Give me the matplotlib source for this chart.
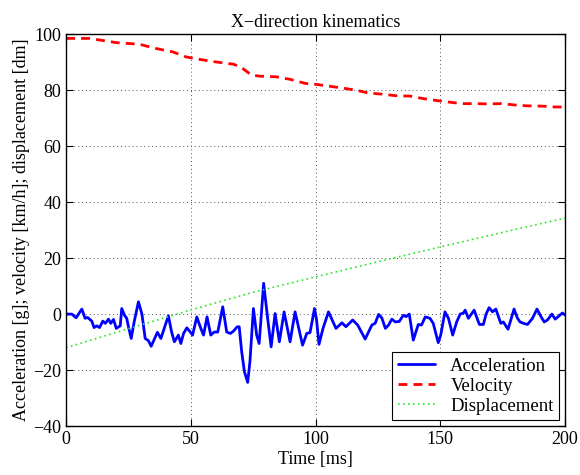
import matplotlib
matplotlib.use("Agg")
import matplotlib.pyplot as plt

plt.rcParams['font.family'] = ['Liberation Serif', 'DejaVu Serif']
plt.rcParams['axes.unicode_minus'] = True

# Acceleration [g]
acc_t = [0, 2.3, 4, 6.3, 7.6, 8.6, 10.3, 11.2, 12.3, 13.4, 14.7, 15.7, 17, 17.9, 19, 20.1,
         21.7, 22.3, 23.4, 24.3, 25, 26.1, 27.3, 29, 30.4, 31.7, 33, 34.1, 36.6, 38, 41,
         42.3, 43.4, 45, 46, 47.1, 48.4, 49.8, 50.7, 52.4, 54, 55.1, 56.5, 58, 59.4, 60.8,
         62.8, 64.4, 65.9, 67.2, 68.5, 69.4, 70.4, 71.5, 72.8, 73.7, 75.1, 76.4, 77.4, 79.2,
         80.8, 82.2, 83.8, 85.5, 87.4, 89.8, 91.8, 94.8, 96.5, 97.8, 99.6, 100.4, 101.4, 103,
         105.2, 108.2, 110.6, 112.2, 114.9, 116.9, 119.9, 122.6, 123.9, 125.3, 126.6, 128,
         129.3, 130.6, 132, 133.6, 135.2, 136.3, 137.6, 139.2, 141.2, 142.5, 144, 145.9,
         147.2, 149.2, 150.2, 151.9, 153.3, 155, 156.6, 158, 159.3, 160, 161.3, 163.6, 165.7,
         167.3, 168.4, 169.6, 171, 172.3, 174.3, 175.3, 177.2, 179.6, 181, 182, 183.4, 185,
         187, 188.8, 190.4, 191.7, 193, 194.8, 196.1, 197.7, 199, 200]
acc_v = [0, 0, -1.3, 1.8, -1.5, -1.2, -2.5, -4.8, -4.2, -4.8, -2.5, -3.3, -1.8, -3.3, -1.9, -5.1,
         -4.2, 2.0, -0.4, -1.5, -4.5, -8.7, -2.7, 4.4, 0, -8.7, -9.5, -11.5, -6.5, -8.7, -0.6,
         -6.4, -9.9, -7.5, -10.5, -6.9, -4.9, -6.4, -7.5, -1, -5.1, -7.5, -1, -7.5, -6.4, -6.4,
         2.6, -6.4, -6.9, -6.0, -4.6, -4.5, -13.5, -20.6, -24.4, -17, 2, -7.5, -10.5, 11,
         -1.5, -11.7, 0.2, -9.9, 0.8, -9.9, 0.8, -11.1, -6.9, -6.6, 2.0, -2, -10.8, -5.1,
         0.8, -5.1, -3.1, -4.5, -2.1, -3.9, -8.9, -3.9, -3.3, -0.1, -1.4, -5.1,
         -3.9, -1.8, -2.8, -2.6, -0.4, -0.9, 0, -9.3, -3.7, -3.9, -1, -1.5,
         -3.3, -10.2, -7.5, 0.8, -1.5, -7.5, -2.8, 0, 0.4, 1.4, -1.5, 1.4, -3.7,
         -3.7, 0, 2.3, 0.8, 1.8, -3.3, -2.8, -5.4, 1.8, -1.5, -2.8, -3.3, -3.7,
         -1.5, 1.8, -0.9, -2.8, -2.1, 0, -1.8, -0.6, 0.4, -0.3]

# Velocity [km/h]
vel_t = [0, 9.4, 20, 29.4, 36, 42.7, 48, 53.5, 60, 67, 70, 74.3, 77.6, 84, 89.7, 96, 100,
         105.7, 110.4, 116.4, 121, 126.5, 132.5, 137.8, 142.5, 147.8, 153, 158.6, 164, 169,
         174.6, 180, 185, 190.7, 196, 200]
vel_v = [98.5, 98.5, 97.0, 96.4, 94.9, 93.7, 91.9, 91.0, 90.1, 89.3, 88.3, 85.4, 85.0, 84.8,
         83.9, 82.4, 82.1, 81.4, 80.8, 80.0, 79.0, 78.6, 78.0, 77.9, 77.1, 76.4, 75.8, 75.2,
         75.2, 75.1, 75.2, 74.7, 74.4, 74.3, 74.0, 74.0]

# Displacement [dm]
dis_t = [0, 25, 50, 75, 100, 125, 150, 175, 200]
dis_v = [-12.0, -5.2, 1.5, 7.8, 13.3, 18.7, 24.0, 29.2, 34.3]

fig = plt.figure(figsize=(5.8, 4.75), dpi=100)
ax = fig.add_axes([0.114, 0.103, 0.86, 0.825])

ax.plot(acc_t, acc_v, color=(0, 0, 1), lw=2.0, label='Acceleration',
        solid_joinstyle='round', solid_capstyle='round')
ax.plot(vel_t, vel_v, color=(1, 0, 0), lw=2.0, ls=(0, (3.2, 2.2)), label='Velocity')
ax.plot(dis_t, dis_v, color=(0.15, 0.9, 0.15), lw=1.2, ls=(0, (1, 2.0)), label='Displacement')

ax.set_xlim(0, 200)
ax.set_ylim(-40, 100)
ax.set_xticks([0, 50, 100, 150, 200])
ax.set_yticks([-40, -20, 0, 20, 40, 60, 80, 100])
ax.grid(True, color='#555555', ls=(0, (1, 3)), lw=0.7)
ax.tick_params(direction='in', top=True, right=True, labelsize=13, length=5, width=0.8)
for s in ax.spines.values():
    s.set_linewidth(1.0)

ax.set_title('X\u2212direction kinematics', fontsize=13, pad=5)
ax.set_xlabel('Time [ms]', fontsize=13, labelpad=2)
ax.set_ylabel('Acceleration [g]; velocity [km/h]; displacement [dm]', fontsize=13, labelpad=2)

leg = ax.legend(loc='lower right', fontsize=13.5, fancybox=False, framealpha=1,
                edgecolor='black', borderaxespad=0.3, handlelength=2.0,
                borderpad=0.3, labelspacing=0.15)
leg.get_frame().set_linewidth(0.8)

fig.savefig('out.png', dpi=100)
